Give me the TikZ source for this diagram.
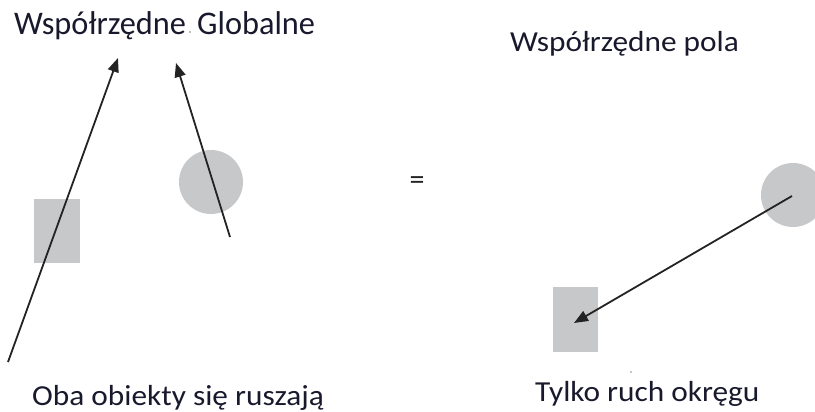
\documentclass[tikz,border=0pt]{standalone}
\usepackage{fontspec}
\setmainfont{Carlito}
\usetikzlibrary{arrows.meta}
\definecolor{shape}{RGB}{199,200,202}
\definecolor{ink}{RGB}{35,35,35}
\definecolor{txt}{RGB}{25,25,45}
\tikzset{
  obj/.style={fill=shape,draw=none,inner sep=0pt},
  lbl/.style={anchor=base west,inner sep=0pt,text=txt,xscale=1.08,font=\fontsize{29}{34}\selectfont},
  big/.style={anchor=base west,inner sep=0pt,text=txt,xscale=0.98,font=\fontsize{33}{38}\selectfont},
  mv/.style={draw=ink,line width=1.8pt,-{Triangle[length=14pt,width=11pt]}},
}
\begin{document}
\begin{tikzpicture}[x=1pt,y=-1pt]
\useasboundingbox (0,0) rectangle (815,412);
\begin{scope}
\clip (0,0) rectangle (815,412);
% left
\node[obj,minimum width=46pt,minimum height=64pt] (lsq) at (57,231) {};
\node[obj,circle,minimum size=64pt] (lci) at (211,182) {};
% right
\node[obj,minimum width=45pt,minimum height=65pt] (rsq) at (575.5,319.5) {};
\node[obj,circle,minimum size=64pt] (rci) at (793,195) {};
\end{scope}
% texts
\node[big] (tg1) at (14,35) {Współrzędne};
\node[big] (tg2) at (197,35) {Globalne};
\node[lbl] (tp) at (510,52) {Współrzędne pola};
\node[lbl] (tb1) at (32,405) {Oba obiekty się ruszają};
\node[lbl] (tb2) at (535,401) {Tylko ruch okręgu};
\node[inner sep=0pt,text=ink,font=\fontsize{30}{34}\selectfont] (eq) at (417,183) {=};
\fill[ink!60] (190,32) circle (0.9pt);
\fill[ink!50] (631,372) circle (0.8pt);
% arrows
\coordinate (a1s) at (8,362);
\coordinate (a1e) at (118,58);
\coordinate (a2s) at (230,237);
\coordinate (a2e) at (176,63);
\coordinate (a3s) at (792,196);
\coordinate (a3e) at (574,323);
\draw[mv] (a1s) -- (a1e);
\draw[mv] (a2s) -- (a2e);
\draw[mv] (a3s) -- (a3e);
\end{tikzpicture}
\end{document}
